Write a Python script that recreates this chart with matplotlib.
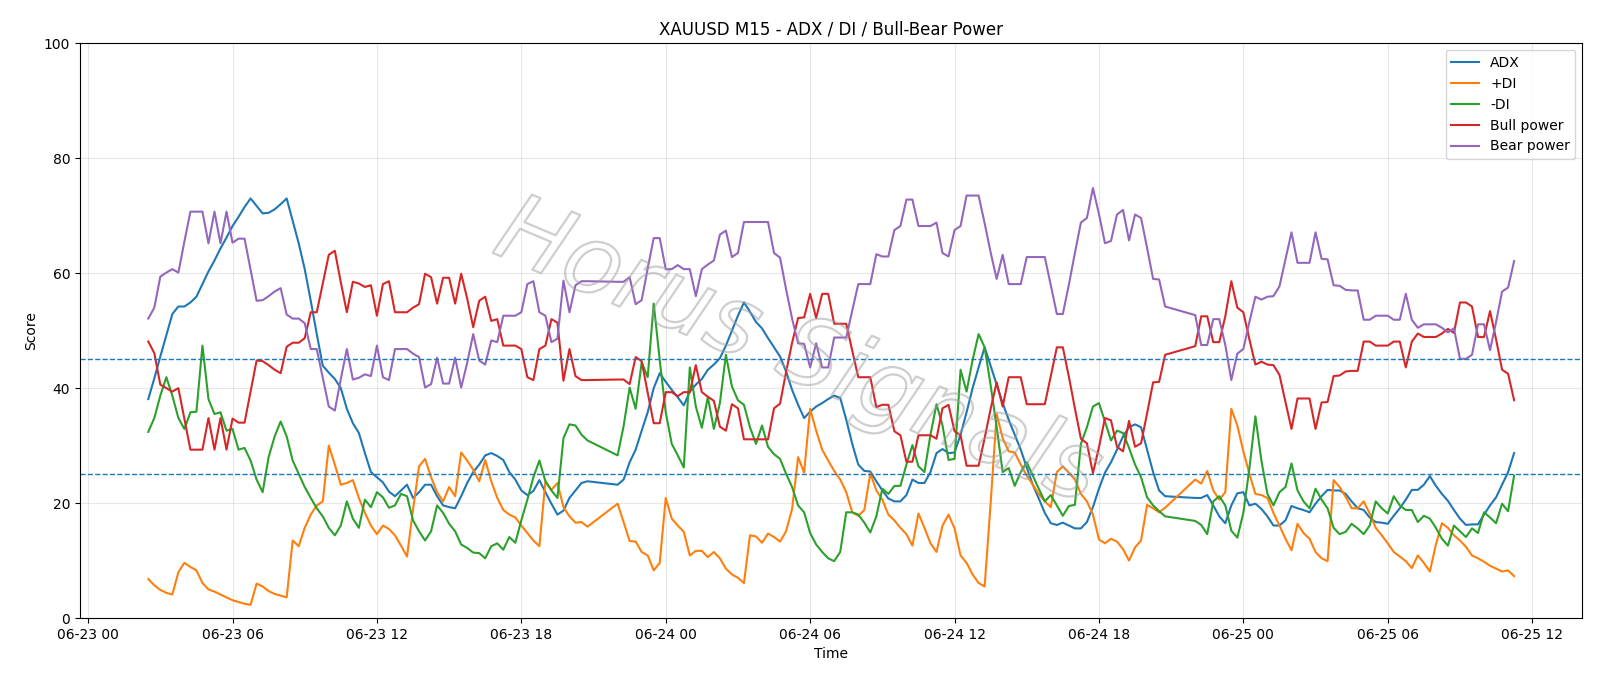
import matplotlib
matplotlib.use('Agg')
import matplotlib.pyplot as plt
import matplotlib.dates as mdates
import matplotlib.patheffects as pe
import pandas as pd

# three trading sessions of M15 bars (daily break 21:00-22:00)
SESSION_1 = ('2025-06-23 02:30', '2025-06-23 20:45')
SESSION_2 = ('2025-06-23 22:00', '2025-06-24 20:45')
SESSION_3 = ('2025-06-24 22:00', '2025-06-25 11:15')

adx = [
    38.1, 41.7, 45.5, 49.2, 52.9, 54.2, 54.2, 54.9, 55.9, 58.1, 60.3, 62.2, 64.3, 66.2, 68.2, 69.8,
    71.5, 73.0, 71.7, 70.4, 70.5, 71.1, 72.0, 73.0, 69.1, 65.2, 60.7, 55.2, 49.4, 43.9, 42.7, 41.6,
    40.0, 36.4, 33.9, 32.2, 28.7, 25.4, 24.5, 23.6, 22.0, 21.2, 22.2, 23.2, 20.9, 21.9, 23.2, 23.2,
    21.2, 19.6, 19.3, 19.1, 21.2, 23.5, 25.4, 26.7, 28.3, 28.7, 28.2, 27.5, 25.4, 24.1, 22.2, 21.4,
    22.1, 24.0, 21.9, 19.9, 18.0, 18.7, 20.9, 22.2, 23.5, 23.8,
    23.2, 24.1, 27.1, 29.3, 32.6, 35.8, 40.0, 42.6, 41.1, 39.7, 38.4, 37.0, 39.4, 40.6, 41.6, 43.2,
    44.1, 45.2, 47.4, 50.0, 52.6, 54.9, 53.3, 51.5, 50.4, 48.7, 47.1, 45.5, 42.9, 39.7, 37.1, 34.8,
    35.9, 36.8, 37.4, 38.1, 38.7, 38.3, 34.5, 30.3, 26.7, 25.6, 25.5, 23.8, 22.2, 20.8, 20.3, 20.3,
    21.4, 24.1, 23.5, 23.5, 25.4, 28.7, 29.4, 28.7, 28.8, 31.9, 35.8, 40.0, 43.6, 47.1, 43.9, 40.6,
    37.4, 34.5, 31.9, 29.3, 26.2, 23.2, 20.8, 18.3, 16.5, 16.2, 16.6, 16.1, 15.6, 15.6, 16.7, 19.3,
    22.5, 25.3, 27.1, 29.3, 31.6, 33.2, 33.7, 33.2, 29.3, 25.4, 22.2, 21.2,
    20.9, 20.9, 21.4, 19.6, 17.7, 16.5, 19.6, 21.7, 21.9, 19.6, 19.9, 19.0, 17.7, 16.1, 16.1, 17.0,
    19.5, 19.1, 18.8, 18.4, 19.9, 21.2, 22.3, 22.2, 22.2, 21.6, 20.3, 19.1, 18.8, 17.5, 16.7, 16.6,
    16.4, 17.8, 19.1, 20.6, 22.3, 22.3, 23.2, 24.7, 23.0, 21.6, 20.4, 18.8, 17.3, 16.2, 16.3, 16.3,
    18.0, 19.6, 21.0, 23.2, 25.4, 28.7,
]

plus_di = [
    6.8, 5.7, 4.9, 4.4, 4.1, 8.0, 9.6, 8.9, 8.3, 6.1, 5.0, 4.6, 4.1, 3.6, 3.1, 2.8,
    2.5, 2.3, 6.0, 5.5, 4.7, 4.2, 3.9, 3.6, 13.5, 12.5, 15.7, 18.0, 19.6, 20.3, 30.0, 26.7,
    23.2, 23.5, 24.0, 20.9, 18.3, 16.1, 14.6, 16.1, 15.5, 14.4, 12.6, 10.7, 18.9, 26.4, 27.7, 24.5,
    21.9, 20.3, 22.8, 21.2, 28.8, 27.4, 25.8, 23.8, 27.5, 23.8, 20.9, 18.8, 18.0, 17.5, 16.1, 14.8,
    13.5, 12.5, 23.8, 22.3, 23.5, 19.3, 17.7, 16.6, 16.7, 15.9,
    19.9, 16.7, 13.4, 13.3, 11.5, 10.9, 8.3, 9.6, 20.9, 17.3, 16.1, 15.0, 10.9, 11.7, 11.7, 10.6,
    11.5, 10.4, 8.6, 7.6, 7.0, 6.1, 14.4, 14.2, 13.1, 14.7, 14.1, 13.3, 15.1, 19.0, 28.0, 25.3,
    36.4, 32.6, 29.3, 27.4, 25.6, 24.1, 21.9, 18.4, 17.8, 18.8, 25.2, 22.2, 20.6, 18.0, 17.0, 15.7,
    14.6, 12.6, 18.2, 15.7, 13.0, 11.5, 16.1, 18.0, 15.6, 10.9, 9.6, 7.6, 6.1, 5.5, 20.0, 35.5,
    31.3, 29.0, 28.8, 26.7, 24.8, 23.2, 21.6, 20.3, 19.3, 25.4, 26.4, 25.3, 24.1, 21.6, 20.3, 18.0,
    13.7, 13.0, 13.8, 13.3, 12.0, 10.0, 12.3, 13.5, 19.7, 19.1, 18.4, 19.2,
    24.1, 23.4, 25.6, 22.2, 20.6, 21.9, 36.4, 33.5, 29.0, 25.1, 21.6, 21.4, 20.9, 18.3, 16.1, 13.8,
    11.8, 16.4, 14.8, 13.8, 11.5, 10.4, 9.9, 24.0, 22.8, 21.1, 19.1, 19.1, 20.3, 18.2, 15.7, 14.4,
    13.0, 11.5, 10.7, 9.9, 8.7, 10.9, 9.6, 8.1, 12.8, 16.5, 15.7, 14.4, 13.5, 12.4, 10.9, 10.4,
    9.8, 9.1, 8.6, 8.1, 8.3, 7.3,
]

minus_di = [
    32.4, 34.8, 38.7, 41.9, 38.7, 34.8, 32.9, 35.8, 35.9, 47.4, 38.1, 35.5, 35.8, 32.6, 32.9, 29.3,
    29.6, 27.4, 24.1, 21.9, 28.0, 31.6, 34.2, 31.6, 27.4, 25.1, 22.8, 20.9, 19.1, 17.7, 15.7, 14.4,
    16.1, 20.3, 17.3, 15.7, 20.6, 19.3, 21.9, 21.0, 19.2, 19.6, 21.6, 21.2, 17.0, 15.1, 13.5, 15.1,
    19.6, 18.3, 16.4, 15.1, 12.8, 12.2, 11.4, 11.3, 10.4, 12.5, 13.0, 11.9, 14.1, 13.1, 17.0, 20.6,
    24.5, 27.4, 23.8, 22.2, 20.9, 31.3, 33.7, 33.5, 31.9, 30.9,
    28.3, 33.4, 40.1, 36.4, 44.5, 41.9, 54.7, 44.9, 35.8, 30.3, 28.3, 26.2, 43.6, 36.8, 33.1, 38.4,
    32.9, 37.4, 45.8, 40.3, 37.9, 37.1, 33.2, 30.3, 33.5, 29.8, 28.5, 27.7, 25.1, 22.8, 19.6, 18.4,
    14.8, 12.8, 11.5, 10.4, 9.9, 11.5, 18.4, 18.4, 18.0, 16.6, 14.9, 17.7, 22.5, 21.6, 23.0, 23.0,
    26.7, 30.1, 26.4, 25.4, 31.9, 37.2, 33.5, 27.5, 27.7, 43.2, 39.4, 44.9, 49.4, 47.1, 40.5, 33.2,
    25.4, 26.1, 23.0, 25.4, 27.1, 24.8, 22.5, 20.3, 21.4, 19.6, 17.8, 19.5, 19.7, 30.3, 33.2, 36.8,
    37.4, 34.2, 30.9, 32.6, 32.2, 29.6, 26.7, 24.5, 21.0, 19.6, 18.6, 17.7,
    16.9, 16.2, 14.6, 20.3, 21.2, 19.6, 15.2, 14.0, 18.3, 26.0, 35.1, 27.4, 21.6, 19.6, 21.9, 22.8,
    26.9, 22.2, 20.3, 19.1, 22.5, 20.6, 19.1, 15.7, 14.6, 15.0, 16.4, 15.6, 14.6, 16.1, 20.3, 19.1,
    18.2, 21.2, 19.6, 18.8, 18.8, 16.7, 17.8, 17.3, 15.7, 13.8, 12.6, 16.1, 15.1, 14.1, 15.6, 14.8,
    18.4, 17.5, 16.5, 19.9, 18.6, 24.8,
]

bull_power = [
    48.1, 46.1, 40.6, 40.0, 39.4, 40.0, 34.6, 29.3, 29.3, 29.3, 34.8, 29.3, 34.8, 29.3, 34.7, 34.0,
    34.0, 39.4, 44.8, 44.7, 44.0, 43.2, 42.6, 47.2, 47.9, 47.9, 48.7, 53.2, 53.2, 58.2, 63.2, 63.9,
    58.4, 53.2, 58.5, 58.2, 57.6, 57.9, 52.6, 58.1, 58.6, 53.2, 53.2, 53.2, 54.0, 54.6, 59.9, 59.3,
    54.7, 59.2, 59.2, 54.7, 59.9, 55.6, 50.6, 55.2, 55.9, 51.7, 52.0, 47.4, 47.4, 47.4, 46.8, 41.9,
    41.4, 46.8, 47.4, 52.0, 51.4, 41.3, 46.8, 42.1, 41.4, 41.4,
    41.5, 41.5, 40.7, 45.4, 44.7, 39.2, 33.9, 33.9, 39.3, 39.3, 38.6, 39.3, 39.3, 44.0, 39.3, 38.5,
    37.8, 33.3, 32.6, 37.2, 36.5, 31.1, 31.1, 31.1, 31.1, 31.1, 36.5, 37.3, 42.8, 47.9, 52.2, 52.3,
    56.4, 52.2, 56.4, 56.4, 51.2, 51.2, 51.2, 46.5, 41.9, 41.9, 41.9, 36.7, 37.1, 37.1, 32.5, 31.8,
    27.2, 27.2, 31.8, 31.8, 31.8, 31.2, 36.5, 37.1, 32.5, 31.8, 26.5, 26.5, 26.5, 31.3, 36.4, 41.0,
    36.8, 41.9, 41.9, 41.9, 37.2, 37.2, 37.2, 37.2, 42.1, 47.1, 47.1, 42.0, 36.5, 31.2, 30.4, 25.2,
    29.7, 34.8, 34.4, 29.8, 29.0, 34.3, 29.8, 30.4, 35.6, 41.0, 41.1, 45.8,
    47.3, 52.5, 52.5, 48.0, 48.0, 52.5, 58.6, 54.0, 53.2, 48.5, 44.1, 44.6, 44.1, 44.0, 42.3, 37.6,
    32.9, 38.2, 38.2, 38.2, 32.9, 37.5, 37.6, 42.1, 42.2, 42.9, 43.0, 43.0, 48.1, 48.1, 47.4, 47.4,
    47.4, 48.1, 48.1, 43.6, 48.1, 49.5, 48.9, 48.9, 48.9, 49.5, 50.3, 49.6, 54.9, 54.9, 54.2, 48.9,
    48.9, 53.4, 48.5, 43.2, 42.5, 37.9,
]

bear_power = [
    52.1, 54.0, 59.4, 60.1, 60.7, 60.1, 65.5, 70.7, 70.7, 70.7, 65.2, 70.7, 65.2, 70.7, 65.3, 66.0,
    66.0, 60.6, 55.2, 55.3, 56.0, 56.8, 57.4, 52.8, 52.1, 52.1, 51.3, 46.8, 46.8, 41.8, 36.8, 36.1,
    41.6, 46.8, 41.5, 41.8, 42.4, 42.1, 47.4, 41.9, 41.4, 46.8, 46.8, 46.8, 46.0, 45.4, 40.1, 40.7,
    45.3, 40.8, 40.8, 45.3, 40.1, 44.4, 49.4, 44.8, 44.1, 48.3, 48.0, 52.6, 52.6, 52.6, 53.2, 58.1,
    58.6, 53.2, 52.6, 48.0, 48.6, 58.7, 53.2, 57.9, 58.6, 58.6,
    58.5, 58.5, 59.3, 54.6, 55.3, 60.8, 66.1, 66.1, 60.7, 60.7, 61.4, 60.7, 60.7, 56.0, 60.7, 61.5,
    62.2, 66.7, 67.4, 62.8, 63.5, 68.9, 68.9, 68.9, 68.9, 68.9, 63.5, 62.7, 57.2, 52.1, 47.8, 47.7,
    43.6, 47.8, 43.6, 43.6, 48.8, 48.8, 48.8, 53.5, 58.1, 58.1, 58.1, 63.3, 62.9, 62.9, 67.5, 68.2,
    72.8, 72.8, 68.2, 68.2, 68.2, 68.8, 63.5, 62.9, 67.5, 68.2, 73.5, 73.5, 73.5, 68.7, 63.6, 59.0,
    63.2, 58.1, 58.1, 58.1, 62.8, 62.8, 62.8, 62.8, 57.9, 52.9, 52.9, 58.0, 63.5, 68.8, 69.6, 74.8,
    70.3, 65.2, 65.6, 70.2, 71.0, 65.7, 70.2, 69.6, 64.4, 59.0, 58.9, 54.2,
    52.7, 47.5, 47.5, 52.0, 52.0, 47.5, 41.4, 46.0, 46.8, 51.5, 55.9, 55.4, 55.9, 56.0, 57.7, 62.4,
    67.1, 61.8, 61.8, 61.8, 67.1, 62.5, 62.4, 57.9, 57.8, 57.1, 57.0, 57.0, 51.9, 51.9, 52.6, 52.6,
    52.6, 51.9, 51.9, 56.4, 51.9, 50.5, 51.1, 51.1, 51.1, 50.5, 49.7, 50.4, 45.1, 45.1, 45.8, 51.1,
    51.1, 46.6, 51.5, 56.8, 57.5, 62.1,
]

SERIES_LABELS = ['ADX', '+DI', '-DI', 'Bull power', 'Bear power']
LEVELS = [45, 25]


def _times():
    parts = []
    for start, end in (SESSION_1, SESSION_2, SESSION_3):
        parts.append(pd.date_range(start, end, freq='15min'))
    return parts[0].append(parts[1]).append(parts[2])


def plot_scores():
    times = _times()

    fig, ax = plt.subplots(figsize=(16, 6.86), dpi=100)
    fig.subplots_adjust(left=0.05, right=0.989, top=0.937, bottom=0.099)

    for values, label in zip([adx, plus_di, minus_di, bull_power, bear_power], SERIES_LABELS):
        ax.plot(times, values, label=label, linewidth=1.5)

    for level in LEVELS:
        ax.axhline(level, color='tab:blue', linestyle='--', linewidth=1)

    ax.set_ylim(0, 100)
    ax.xaxis.set_major_locator(mdates.HourLocator(byhour=[0, 6, 12, 18]))
    ax.xaxis.set_major_formatter(mdates.DateFormatter('%m-%d %H'))
    ax.grid(True, alpha=0.3)

    ax.set_title('XAUUSD M15 - ADX / DI / Bull-Bear Power')
    ax.set_xlabel('Time')
    ax.set_ylabel('Score')
    ax.legend(loc='upper right')

    # faint hollow watermark
    ax.text(0.478, 0.46, 'Horus Signals', transform=ax.transAxes,
            fontsize=68, style='italic', color='none', rotation=-23,
            ha='center', va='center', zorder=5,
            path_effects=[pe.withStroke(linewidth=1.6, foreground=(0.62, 0.62, 0.62, 0.5))])

    fig.savefig('out.png', dpi=100)


if __name__ == '__main__':
    plot_scores()
